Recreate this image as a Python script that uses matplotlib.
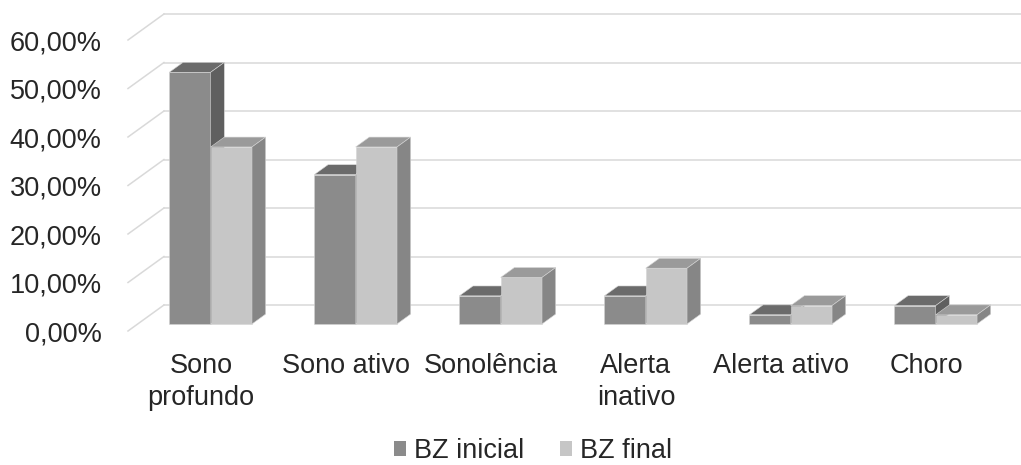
import matplotlib.pyplot as plt
from matplotlib.patches import Polygon, Patch

categories = ["Sono\nprofundo", "Sono ativo", "Sonolência", "Alerta\ninativo",
              "Alerta ativo", "Choro"]
bz_inicial = [51.9, 30.8, 5.8, 5.8, 1.9, 3.8]
bz_final = [36.5, 36.5, 9.6, 11.5, 3.8, 1.9]
y_ticks = [0, 10, 20, 30, 40, 50, 60]
y_labels = ["0,00%", "10,00%", "20,00%", "30,00%", "40,00%", "50,00%", "60,00%"]

plt.rcParams["font.family"] = ["Liberation Sans", "DejaVu Sans"]

# oblique projection: offset of the back wall in (category, percent) units
DX, DY = 0.248, 5.36
BAR_W = 0.285
Z0, Z1 = 0.27, 0.65  # front and back depth of the columns
GRID = "#d9d9d9"
TEXT = "#262626"

dark = ("#8b8b8b", "#6b6b6b", "#5f5f5f")
light = ("#c6c6c6", "#9a9a9a", "#868686")


def proj(x, y, z):
    return (x + z * DX, y + z * DY)


def column(ax, x0, h, colors):
    front, top, side = colors
    x1 = x0 + BAR_W
    faces = [
        (front, [proj(x0, 0, Z0), proj(x1, 0, Z0), proj(x1, h, Z0), proj(x0, h, Z0)]),
        (top, [proj(x0, h, Z0), proj(x1, h, Z0), proj(x1, h, Z1), proj(x0, h, Z1)]),
        (side, [proj(x1, 0, Z0), proj(x1, 0, Z1), proj(x1, h, Z1), proj(x1, h, Z0)]),
    ]
    for color, pts in faces:
        ax.add_patch(Polygon(pts, closed=True, facecolor=color, edgecolor="#d4d4d4",
                             linewidth=0.4, joinstyle="miter", clip_on=False))


fig = plt.figure(figsize=(10.21, 4.65), dpi=100)
ax = fig.add_axes([128 / 1021, 134 / 465, 893 / 1021, 331 / 465])
xl, xr = -0.503, 5.655
ax.set_xlim(xl, xr)
ax.set_ylim(0, 68.25)

# walls: side lines plus back gridlines
for v in y_ticks:
    ax.plot([xl, xl + DX], [v, v + DY], color=GRID, lw=1.1, clip_on=False, zorder=0)
    ax.plot([xl + DX, xr + 1], [v + DY, v + DY], color=GRID, lw=1.1, clip_on=False, zorder=0)

for i in range(len(categories)):
    column(ax, i - BAR_W, bz_inicial[i], dark)
    column(ax, i, bz_final[i], light)

for s in ax.spines.values():
    s.set_visible(False)
ax.set_yticks(y_ticks)
ax.set_yticklabels(y_labels)
ax.set_xticks(range(len(categories)))
ax.set_xticklabels(categories, linespacing=1.3)
ax.tick_params(axis="y", length=0, pad=19, labelsize=19.5, labelcolor=TEXT)
ax.tick_params(axis="x", length=0, pad=16, labelsize=19.5, labelcolor=TEXT)

handles = [Patch(facecolor=dark[0]), Patch(facecolor=light[0])]
fig.legend(handles, ["BZ inicial", "BZ final"], loc="center",
           bbox_to_anchor=(533 / 1021, 1 - 451 / 465), ncol=2, frameon=False,
           fontsize=19.5, labelcolor=TEXT, handlelength=0.45, handleheight=0.45,
           handletextpad=0.3, columnspacing=1.3, borderpad=0.2)

fig.savefig("out.png", dpi=100)
